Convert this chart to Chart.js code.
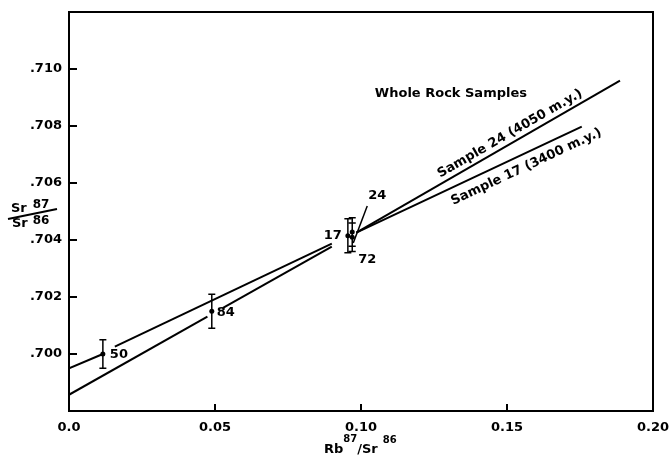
<!DOCTYPE html>
<html>
<head>
<meta charset="utf-8">
<script src="https://cdn.jsdelivr.net/npm/chart.js@4"></script>
<style>
  html, body { margin: 0; padding: 0; background: #fff; }
  canvas { display: block; }
</style>
</head>
<body>
<canvas id="isochron" width="669" height="462"></canvas>
<script>
// whole rock samples
const sampleIds = ["50", "84", "17", "24", "72"];
const rbSr = [0.0116, 0.0489, 0.0955, 0.0970, 0.0970];
const srSr = [0.7000, 0.7015, 0.70415, 0.70428, 0.70410];
const srErr = [0.0005, 0.0006, 0.0006, 0.0005, 0.0005];

// isochron line pieces (gaps where the labels sit)
const upperSegX = [[0, 0.0116], [0.0157, 0.0900], [0.0984, 0.1887]];
const upperSegY = [[0.6995, 0.7000], [0.70026, 0.70387], [0.70426, 0.70959]];
const lowerSegX = [[0, 0.0474], [0.0526, 0.0900], [0.0984, 0.1756]];
const lowerSegY = [[0.69857, 0.70131], [0.70161, 0.70377], [0.70426, 0.70798]];

const lineNames = ["Sample 24 (4050 m.y.)", "Sample 17 (3400 m.y.)"];

// axis ticks
const rbTicks = [0, 0.05, 0.10, 0.15, 0.20];
const srTicks = [0.700, 0.702, 0.704, 0.706, 0.708, 0.710];

const FONT = "'DejaVu Sans', sans-serif";

function segDatasets(xs, ys) {
  return xs.map(function (pair, i) {
    return {
      type: "scatter",
      showLine: true,
      data: [{ x: pair[0], y: ys[i][0] }, { x: pair[1], y: ys[i][1] }],
      borderColor: "#000",
      borderWidth: 2,
      pointRadius: 0,
    };
  });
}

// writes pieces left to right; raised pieces are superscripts
function writeRun(ctx, x, base, pieces) {
  pieces.forEach(function (p) {
    ctx.font = "bold " + p[1] + "px " + FONT;
    ctx.fillText(p[0], x, base - p[2]);
    x += ctx.measureText(p[0]).width + (p[3] || 0);
  });
}

// box, inward ticks, error bars and all the hand lettering
const figurePlugin = {
  id: "figure",
  afterDatasetsDraw(chart) {
    const ctx = chart.ctx;
    const a = chart.chartArea;
    const xs = chart.scales.x;
    const ys = chart.scales.y;
    ctx.save();
    ctx.strokeStyle = "#000";
    ctx.fillStyle = "#000";

    // frame
    ctx.lineWidth = 2;
    ctx.strokeRect(a.left, a.top, a.right - a.left, a.bottom - a.top);

    // inward tick marks
    ctx.beginPath();
    xs.ticks.forEach(function (t) {
      if (t.value <= 0 || t.value >= 0.2) return;
      const px = xs.getPixelForValue(t.value);
      ctx.moveTo(px, a.bottom);
      ctx.lineTo(px, a.bottom - 7);
    });
    ys.ticks.forEach(function (t) {
      const py = ys.getPixelForValue(t.value);
      ctx.moveTo(a.left, py);
      ctx.lineTo(a.left + 8, py);
    });
    ctx.stroke();

    // error bars
    ctx.lineWidth = 1.5;
    ctx.beginPath();
    rbSr.forEach(function (x, i) {
      const px = xs.getPixelForValue(x);
      const top = ys.getPixelForValue(srSr[i] + srErr[i]);
      const bot = ys.getPixelForValue(srSr[i] - srErr[i]);
      ctx.moveTo(px, top);
      ctx.lineTo(px, bot);
      ctx.moveTo(px - 3.5, top);
      ctx.lineTo(px + 3.5, top);
      ctx.moveTo(px - 3.5, bot);
      ctx.lineTo(px + 3.5, bot);
    });
    ctx.stroke();

    // sample numbers
    ctx.font = "bold 13px " + FONT;
    ctx.textBaseline = "middle";
    const offs = { "50": [7, 1, "left"], "84": [5, 1, "left"], "17": [-6, 0, "right"],
                   "24": [16, -36, "left"], "72": [6, 22, "left"] };
    sampleIds.forEach(function (id, i) {
      const px = xs.getPixelForValue(rbSr[i]);
      const py = ys.getPixelForValue(srSr[i]);
      const o = offs[id];
      ctx.textAlign = o[2];
      ctx.fillText(id, px + o[0], py + o[1]);
      if (id === "24") {
        ctx.lineWidth = 1.5;
        ctx.beginPath();
        ctx.moveTo(px + 1, py + 11);
        ctx.lineTo(px + 15, py - 26);
        ctx.stroke();
      }
    });

    // rotated isochron labels
    const segs = [[upperSegX[2], upperSegY[2], 0.6, -9], [lowerSegX[2], lowerSegY[2], 0.73, 13]];
    segs.forEach(function (s, i) {
      const x0 = xs.getPixelForValue(s[0][0]), y0 = ys.getPixelForValue(s[1][0]);
      const x1 = xs.getPixelForValue(s[0][1]), y1 = ys.getPixelForValue(s[1][1]);
      const ang = Math.atan2(y1 - y0, x1 - x0);
      const cx = x0 + (x1 - x0) * s[2];
      const cy = y0 + (y1 - y0) * s[2];
      ctx.save();
      ctx.translate(cx, cy);
      ctx.rotate(ang);
      ctx.textAlign = "center";
      ctx.fillText(lineNames[i], 0, s[3]);
      ctx.restore();
    });

    ctx.textAlign = "center";
    ctx.fillText("Whole Rock Samples", xs.getPixelForValue(0.1308), ys.getPixelForValue(0.70915));

    // y axis title  Sr87 / Sr86
    ctx.textAlign = "left";
    ctx.textBaseline = "alphabetic";
    writeRun(ctx, 11, 212, [["Sr", 13, 0, 6], ["87", 12, 4]]);
    writeRun(ctx, 12, 227, [["Sr", 13, 0, 5], ["86", 12, 3]]);
    ctx.lineWidth = 2;
    ctx.beginPath();
    ctx.moveTo(8, 219);
    ctx.lineTo(57, 209);
    ctx.stroke();

    // x axis title  Rb87/Sr86
    writeRun(ctx, 324, 453, [["Rb", 13, 0], ["87", 10, 11], ["/Sr", 13, 0, 5], ["86", 10, 10]]);

    ctx.restore();
  },
};

const ctx = document.getElementById("isochron").getContext("2d");

new Chart(ctx, {
  type: "scatter",
  data: {
    datasets: [
      {
        data: rbSr.map(function (x, i) { return { x: x, y: srSr[i] }; }),
        pointRadius: 2.5,
        pointBackgroundColor: "#000",
        pointBorderWidth: 0,
      },
    ].concat(segDatasets(upperSegX, upperSegY), segDatasets(lowerSegX, lowerSegY)),
  },
  options: {
    responsive: false,
    animation: false,
    events: [],
    layout: { padding: { top: 12, right: 16, left: 0, bottom: 0 } },
    plugins: { legend: { display: false }, tooltip: { enabled: false } },
    scales: {
      x: {
        type: "linear",
        min: 0,
        max: 0.2,
        afterBuildTicks: function (s) { s.ticks = rbTicks.map(function (v) { return { value: v }; }); },
        afterFit: function (s) { s.height = 51; s.paddingLeft = 0; s.paddingRight = 0; },
        grid: { display: false, drawTicks: false },
        border: { display: false },
        ticks: {
          padding: 9,
          color: "#000",
          font: { family: FONT, size: 13, weight: "bold" },
          callback: function (v) { return v === 0 ? "0.0" : v.toFixed(2); },
        },
      },
      y: {
        type: "linear",
        min: 0.698,
        max: 0.712,
        afterBuildTicks: function (s) { s.ticks = srTicks.map(function (v) { return { value: v }; }); },
        afterFit: function (s) { s.width = 69; s.paddingTop = 0; s.paddingBottom = 0; },
        grid: { display: false, drawTicks: false },
        border: { display: false },
        ticks: {
          padding: 7,
          color: "#000",
          font: { family: FONT, size: 13, weight: "bold" },
          callback: function (v) { return "." + v.toFixed(3).split(".")[1]; },
        },
      },
    },
  },
  plugins: [figurePlugin],
});
</script>
</body>
</html>
